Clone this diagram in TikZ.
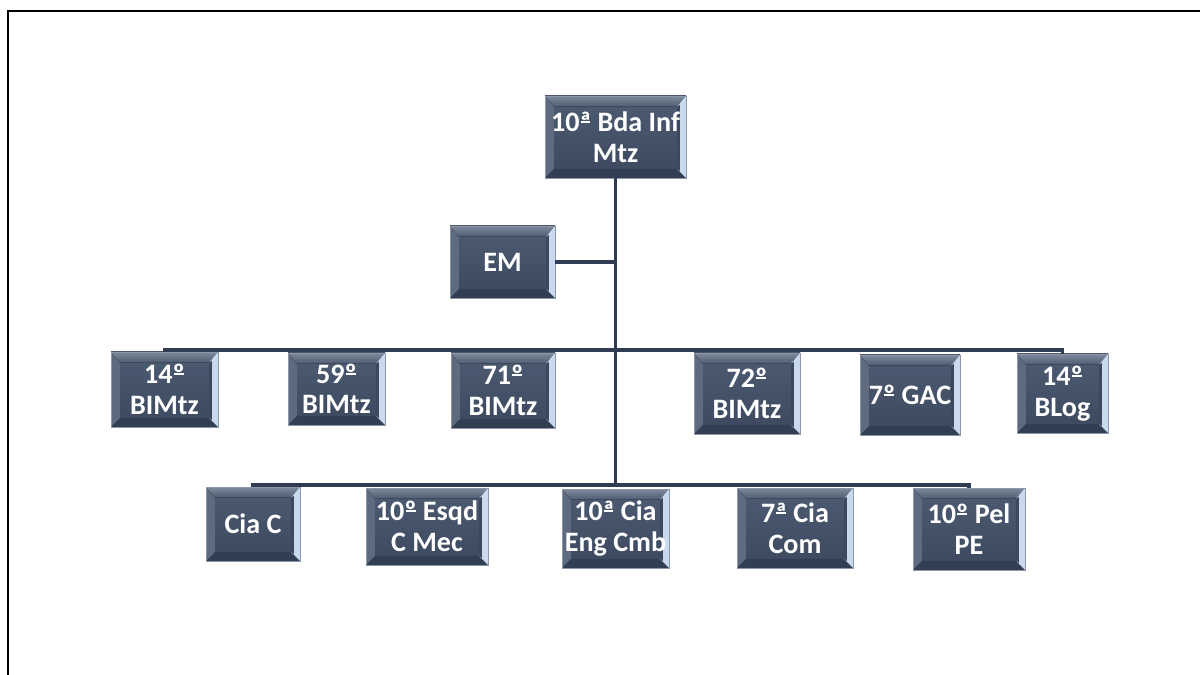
\documentclass[tikz,border=0pt]{standalone}
\usepackage{fontspec}
\usepackage{tikz}
\newfontfamily\unitfont{Carlito}
\newsavebox{\ordbox}
\newcommand{\ord}[1]{\sbox{\ordbox}{#1}\rlap{\kern0.04em\rule[0.31em]{\dimexpr\wd\ordbox-0.08em\relax}{0.07em}}\usebox{\ordbox}}
\definecolor{boxtop}{HTML}{4E5C73}
\definecolor{boxbot}{HTML}{3B485E}
\definecolor{bevtop}{HTML}{7F8A9B}
\definecolor{bevleft}{HTML}{5E6A7D}
\definecolor{bevbot}{HTML}{323E52}
\definecolor{bevright}{HTML}{C9DAEE}
\definecolor{boxedge}{HTML}{8C97A8}
\definecolor{linkblue}{HTML}{2F3C54}

\begin{document}
\begin{tikzpicture}[x=0.02cm,y=-0.02cm,
  every node/.style={font=\unitfont\bfseries\fontsize{16}{17.5}\selectfont},
  link/.style={linkblue,line width=1.8pt},
  unitbox/.style 2 args={rectangle,minimum width=#1*0.02cm,minimum height=#2*0.02cm,
    inner sep=0pt,align=center,text=white,draw=boxedge,line width=0.5pt,
    path picture={
      \path (path picture bounding box.north west) coordinate (nw)
            (path picture bounding box.north east) coordinate (ne)
            (path picture bounding box.south east) coordinate (se)
            (path picture bounding box.south west) coordinate (sw);
      \fill[top color=boxtop,bottom color=boxbot] (nw) rectangle (se);
      \fill[bevleft] (nw) -- ([shift={(5pt,-6pt)}]nw) -- ([shift={(5pt,5pt)}]sw) -- (sw) -- cycle;
      \fill[bevbot] (sw) -- ([shift={(5pt,5pt)}]sw) -- ([shift={(-5pt,5pt)}]se) -- (se) -- cycle;
      \fill[top color=bevtop,bottom color=boxtop] (nw) -- (ne) -- ([shift={(-5pt,-6pt)}]ne) -- ([shift={(5pt,-6pt)}]nw) -- cycle;
      \fill[bevright] (ne) -- ([shift={(-5pt,-6pt)}]ne) -- ([shift={(-5pt,5pt)}]se) -- (se) -- cycle;
      \fill[boxbot] ([shift={(-3.5pt,-5pt)}]ne) -- ([shift={(-5pt,-6pt)}]ne) -- ([shift={(-5pt,5pt)}]se) -- ([shift={(-3.5pt,4pt)}]se) -- cycle;
    }}]
  \useasboundingbox (0,0) rectangle (1200,675);
  \draw[line width=1.4pt] (8,675) -- (8,11) -- (1200,11);

  % command
  \node[unitbox={141}{82}] (bda) at (615.5,137) {10\ord{ª} Bda Inf\\Mtz};
  \node[unitbox={105}{72}] (em) at (502.5,262) {EM};

  % second row
  \node[unitbox={107}{75}] (bim14) at (164.5,389.5) {14\ord{º}\\BIMtz};
  \node[unitbox={97}{72}] (bim59) at (336.5,389) {59\ord{º}\\BIMtz};
  \node[unitbox={104}{75}] (bim71) at (503,390.5) {71\ord{º}\\BIMtz};
  \node[unitbox={106}{81}] (bim72) at (747,393.5) {72\ord{º}\\BIMtz};
  \node[unitbox={100}{80}] (gac) at (910,395) {7\ord{º} GAC};
  \node[unitbox={91}{79}] (blog) at (1062.5,393.5) {14\ord{º}\\BLog};

  % third row
  \node[unitbox={94}{74}] (ciac) at (253,524) {Cia C};
  \node[unitbox={122}{77}] (esqd) at (427,526.5) {10\ord{º} Esqd\\C Mec};
  \node[unitbox={107}{79}] (ciaeng) at (615.5,528.5) {10\ord{ª} Cia\\Eng Cmb};
  \node[unitbox={116}{80}] (ciacom) at (795,528) {7\ord{ª} Cia\\Com};
  \node[unitbox={112}{82}] (pelpe) at (969,529) {10\ord{º} Pel\\PE};

  % connectors
  \coordinate (bar2) at (615.5,350);
  \coordinate (bar3) at (615.5,485);
  \draw[link] (bda.south) -- (bar3);
  \draw[link] (em.east) -- (em.east -| bda.south);
  \draw[link] (bim14.north) |- (bar2) -| (blog.north);
  \draw[link] (ciac.north) |- (bar3) -| (pelpe.north);
\end{tikzpicture}
\end{document}
